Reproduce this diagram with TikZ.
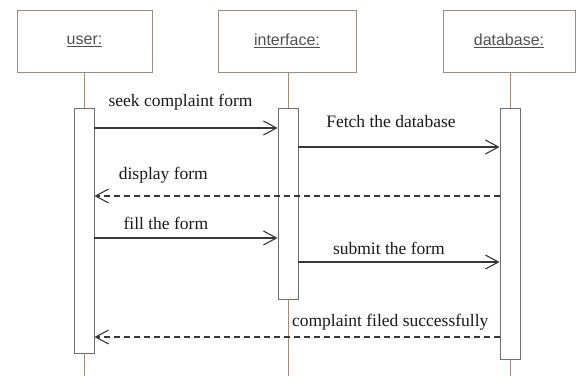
\documentclass[tikz,border=0pt]{standalone}
\usepackage{fontspec}
\setmainfont{Liberation Serif}
\setsansfont{Liberation Sans}
\usepackage{tikz}
\usetikzlibrary{arrows.meta}
\usetikzlibrary{positioning}
\definecolor{boxline}{RGB}{150,140,130}
\definecolor{lifeline}{RGB}{165,140,120}
\definecolor{barline}{RGB}{110,110,110}
\definecolor{msgline}{RGB}{55,55,55}
\definecolor{headtext}{RGB}{80,80,80}
\tikzset{headbox/.style = {draw=boxline, fill=white, line width=0.9pt,
                           minimum height=62pt, inner sep=0,
                           font=\sffamily\fontsize{16}{18}\selectfont, text=headtext}}
\tikzset{actbar/.style = {draw=barline, fill=white, line width=0.9pt,
                          minimum width=20pt, inner sep=0}}
\tikzset{life/.style = {draw=lifeline, line width=0.8pt}}
\tikzset{msg/.style = {draw=msgline, line width=1.1pt,
                       -{Straight Barb[length=13pt, width=14pt, line width=1.1pt]}}}
\tikzset{reply/.style = {msg, dash pattern=on 6pt off 4pt}}
\tikzset{msglbl/.style = {anchor=base, inner sep=0, text=black!90,
                          font=\fontsize{17.5}{20}\selectfont}}

\begin{document}
\begin{tikzpicture}[x=1pt, y=-1pt]
      \useasboundingbox (0,0) rectangle (576,376);

      % lifeline heads
      \node [headbox, minimum width=135pt] (user) at (84.5,41) {\underline{user:}};
      \node [headbox, minimum width=138pt] (interface) at (287,41) {\underline{interface:}};
      \node [headbox, minimum width=132pt] (database) at (509,41) {\underline{database:}};

      % activation bars
      \node [actbar, minimum height=245pt] (ubar) at (84,230.5) {};
      \node [actbar, minimum height=191pt] (ibar) at (288,203.5) {};
      \node [actbar, minimum height=251pt] (dbar) at (510,233.5) {};

      \coordinate (uend) at (84,376);
      \coordinate (iend) at (288,376);
      \coordinate (dend) at (510,376);

      \draw [life] (user.south -| ubar) -- (ubar.north);
      \draw [life] (ubar.south) -- (uend);
      \draw [life] (interface.south -| ibar) -- (ibar.north);
      \draw [life] (ibar.south) -- (iend);
      \draw [life] (database.south -| dbar) -- (dbar.north);
      \draw [life] (dbar.south) -- (dend);

      % message rows
      \coordinate (m1) at (0,128);
      \coordinate (m2) at (0,147);
      \coordinate (m3) at (0,196);
      \coordinate (m4) at (0,238);
      \coordinate (m5) at (0,262);
      \coordinate (m6) at (0,337);

      \draw [msg] (ubar.east |- m1) -- (ibar.west |- m1)
            node [msglbl, pos=0.47, yshift=22pt] {seek complaint form};
      \draw [msg] (ibar.east |- m2) -- (dbar.west |- m2)
            node [msglbl, pos=0.46, yshift=20pt] {Fetch the database};
      \draw [reply] (dbar.west |- m3) -- (ubar.east |- m3)
            node [msglbl, pos=0.83, yshift=17pt] {display form};
      \draw [msg] (ubar.east |- m4) -- (ibar.west |- m4)
            node [msglbl, pos=0.39, yshift=9pt] {fill the form};
      \draw [msg] (ibar.east |- m5) -- (dbar.west |- m5)
            node [msglbl, pos=0.45, yshift=8pt] {submit the form};
      \draw [reply] (dbar.west |- m6) -- (ubar.east |- m6)
            node [msglbl, pos=0.27, yshift=11pt] {complaint filed successfully};
    \end{tikzpicture}
\end{document}
